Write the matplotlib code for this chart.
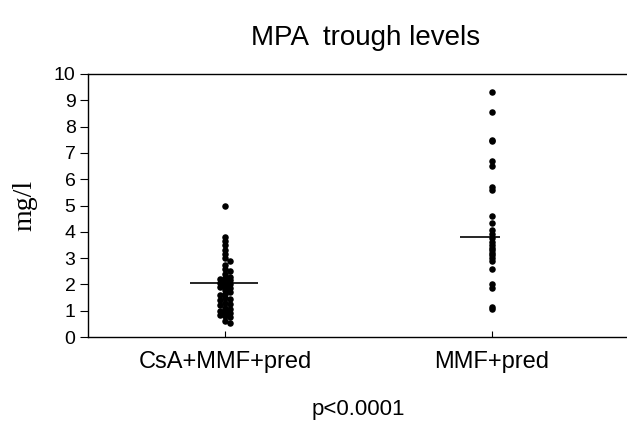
import matplotlib
matplotlib.use("Agg")
import matplotlib.pyplot as plt
import numpy as np

groups = ["CsA+MMF+pred", "MMF+pred"]
csa_mmf = [5.0, 3.8, 3.65, 3.5, 3.3, 3.15, 3.0, 2.9, 2.75, 2.6, 2.5, 2.4, 2.3,
           2.25, 2.2, 2.15, 2.1, 2.05, 2.0, 1.95, 1.9, 1.85, 1.8, 1.7, 1.65,
           1.6, 1.5, 1.45, 1.4, 1.3, 1.25, 1.2, 1.1, 1.05, 1.0, 0.95, 0.9,
           0.85, 0.8, 0.75, 0.6, 0.55]
mmf = [9.3, 8.55, 7.5, 7.45, 6.7, 6.5, 5.7, 5.6, 4.6, 4.35, 4.05, 3.9, 3.75,
       3.6, 3.5, 3.4, 3.3, 3.2, 3.1, 3.0, 2.9, 2.6, 2.0, 1.85, 1.15, 1.05]
means = [2.05, 3.8]

plt.rcParams["font.family"] = ["Liberation Sans", "DejaVu Sans"]

DPI = 100
PX_X = 267.0   # pixels per x unit
PX_Y = 26.3    # pixels per y unit
DOT = 5.5      # dot diameter, px


def swarm(values, gap):
    """Simple beeswarm offsets (x data units); dots may overlap a bit."""
    placed = []
    offs = []
    for v in sorted(values, reverse=True):
        y = v * PX_Y
        cands = [0.0]
        for k in range(1, 10):
            cands += [k * DOT * 0.45, -k * DOT * 0.45]
        for c in cands:
            if all((c - px) ** 2 + (y - py) ** 2 >= gap ** 2 for px, py in placed):
                placed.append((c, y))
                offs.append((v, c / PX_X))
                break
    return offs


fig = plt.figure(figsize=(6.27, 4.29), dpi=DPI)
ax = fig.add_axes([88 / 627, 1 - 337 / 429, 1 - 88 / 627, (337 - 74) / 429])

for i, (vals, gap) in enumerate([(csa_mmf, DOT * 0.7), (mmf, DOT * 0.1)]):
    pos = i + 1
    pts = swarm(vals, gap)
    ax.scatter([pos + o for _, o in pts], [v for v, _ in pts], s=22,
               color="black", linewidths=0, zorder=3)

ax.hlines(means[0], 1 - 0.13, 1 + 0.125, color="black", lw=1.2)
ax.hlines(means[1], 2 - 0.12, 2 + 0.03, color="black", lw=1.2)

ax.set_xlim(0.487, 2.506)
ax.set_ylim(0, 10)
ax.set_yticks(range(0, 11))
ax.set_xticks([1, 2])
ax.set_xticklabels(groups, fontsize=17)
ax.tick_params(axis="y", direction="out", length=6, labelsize=14, pad=3)
ax.tick_params(axis="x", direction="in", length=4, pad=10)
ax.spines["right"].set_visible(False)
for s in ax.spines.values():
    s.set_linewidth(1.0)

ax.set_ylabel("mg/l", fontsize=20, family="Liberation Serif", labelpad=12)
fig.text(366 / 627, 1 - 38 / 429, "MPA  trough levels", fontsize=20,
         ha="center", va="center")
fig.text(358 / 627, 1 - 410 / 429, "p<0.0001", fontsize=16,
         ha="center", va="center")

fig.savefig("out.png", dpi=DPI)
